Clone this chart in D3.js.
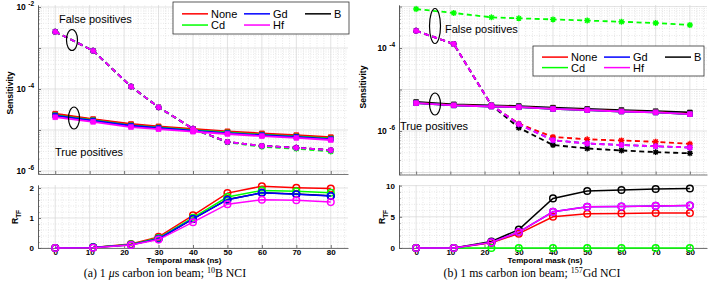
<!DOCTYPE html>
<html>
<head>
<meta charset="utf-8">
<script src="https://cdn.jsdelivr.net/npm/d3@7"></script>
<style>
  body { margin: 0; background: #fff; }
  svg { font-family: "Liberation Sans", Arial, Helvetica, sans-serif; }
</style>
</head>
<body>
<svg id="chart" width="709" height="290"></svg>
<script>
// ---- data ----
const maskNs = [0, 11, 22, 30, 40, 50, 60, 70, 80];
const xTicks = [0, 10, 20, 30, 40, 50, 60, 70, 80];
const seriesNames = ["None", "Cd", "Gd", "Hf", "B"];
const seriesColors = ["#ff0000", "#00ff00", "#0000ff", "#ff00ff", "#000000"];
const drawOrder = ["B", "None", "Cd", "Gd", "Hf"];

// (a) 1 us beam, 10B NCI
const falsePosA = {
    None: [2.5e-3, 8.6e-4, 1.15e-4, 3.6e-5, 1.07e-5, 5.1e-6, 4.1e-6, 3.7e-6, 3.2e-6],
    Cd:   [2.5e-3, 8.6e-4, 1.15e-4, 3.6e-5, 1.06e-5, 5.0e-6, 3.9e-6, 3.5e-6, 3.0e-6],
    Gd:   [2.5e-3, 8.6e-4, 1.15e-4, 3.6e-5, 1.07e-5, 5.1e-6, 4.1e-6, 3.7e-6, 3.2e-6],
    Hf:   [2.5e-3, 8.6e-4, 1.15e-4, 3.6e-5, 1.07e-5, 5.1e-6, 4.1e-6, 3.7e-6, 3.2e-6],
    B:    [2.5e-3, 8.6e-4, 1.15e-4, 3.6e-5, 1.07e-5, 5.1e-6, 4.1e-6, 3.7e-6, 3.2e-6]
};
const truePosA = {
    None: [2.5e-5, 1.85e-5, 1.4e-5, 1.23e-5, 1.06e-5, 9.3e-6, 8.3e-6, 7.5e-6, 6.7e-6],
    Cd:   [2.3e-5, 1.74e-5, 1.3e-5, 1.15e-5, 9.9e-6, 8.7e-6, 7.7e-6, 7.0e-6, 6.2e-6],
    Gd:   [2.25e-5, 1.7e-5, 1.27e-5, 1.12e-5, 9.6e-6, 8.4e-6, 7.5e-6, 6.8e-6, 6.0e-6],
    Hf:   [2.05e-5, 1.58e-5, 1.18e-5, 1.05e-5, 9.1e-6, 8.0e-6, 7.1e-6, 6.4e-6, 5.7e-6],
    B:    [2.4e-5, 1.78e-5, 1.35e-5, 1.18e-5, 1.02e-5, 8.9e-6, 7.9e-6, 7.2e-6, 6.4e-6]
};
const ratioA = {
    None: [0, 0.02, 0.13, 0.37, 1.09, 1.83, 2.06, 2.01, 1.98],
    Cd:   [0, 0.02, 0.12, 0.33, 1.01, 1.70, 1.92, 1.89, 1.84],
    Gd:   [0, 0.02, 0.11, 0.31, 0.97, 1.61, 1.84, 1.79, 1.73],
    Hf:   [0, 0.01, 0.10, 0.28, 0.86, 1.46, 1.61, 1.59, 1.53],
    B:    [0, 0.02, 0.11, 0.31, 0.97, 1.62, 1.84, 1.80, 1.74]
};

// (b) 1 ms beam, 157Gd NCI
const falsePosB = {
    None: [2.6e-4, 1.25e-4, 4.2e-6, 1.5e-6, 7.2e-7, 6.3e-7, 5.9e-7, 5.5e-7, 4.9e-7],
    Cd:   [8.7e-4, 7.0e-4, 5.5e-4, 5.2e-4, 4.9e-4, 4.6e-4, 4.3e-4, 4.0e-4, 3.6e-4],
    Gd:   [2.6e-4, 1.25e-4, 4.2e-6, 1.45e-6, 6.0e-7, 5.0e-7, 4.6e-7, 4.3e-7, 4.0e-7],
    Hf:   [2.6e-4, 1.25e-4, 4.2e-6, 1.45e-6, 6.0e-7, 5.0e-7, 4.6e-7, 4.3e-7, 4.0e-7],
    B:    [2.6e-4, 1.25e-4, 4.2e-6, 1.2e-6, 4.6e-7, 3.8e-7, 3.4e-7, 3.1e-7, 2.9e-7]
};
const truePosB = {
    None: [4.75e-6, 4.2e-6, 3.95e-6, 3.8e-6, 3.45e-6, 3.25e-6, 3.0e-6, 2.85e-6, 2.6e-6],
    Cd:   [4.7e-6, 4.15e-6, 3.9e-6, 3.75e-6, 3.4e-6, 3.2e-6, 2.95e-6, 2.8e-6, 2.55e-6],
    Gd:   [4.7e-6, 4.15e-6, 3.9e-6, 3.75e-6, 3.4e-6, 3.2e-6, 2.95e-6, 2.8e-6, 2.55e-6],
    Hf:   [4.7e-6, 4.15e-6, 3.9e-6, 3.75e-6, 3.4e-6, 3.2e-6, 2.95e-6, 2.8e-6, 2.55e-6],
    B:    [5.0e-6, 4.4e-6, 4.15e-6, 4.0e-6, 3.65e-6, 3.4e-6, 3.2e-6, 3.0e-6, 2.8e-6]
};
const ratioB = {
    None: [0, 0, 0.85, 2.3, 5.0, 5.5, 5.55, 5.6, 5.6],
    Cd:   [0, 0, 0, 0, 0, 0, 0, 0, 0],
    Gd:   [0, 0, 0.9, 2.55, 5.8, 6.6, 6.65, 6.75, 6.8],
    Hf:   [0, 0, 0.9, 2.55, 5.8, 6.6, 6.65, 6.75, 6.8],
    B:    [0, 0, 1.05, 2.95, 7.95, 9.15, 9.3, 9.45, 9.55]
};

const svg = d3.select("#chart");
const colorOf = d3.scaleOrdinal().domain(seriesNames).range(seriesColors);

const panels = [
    {
        left: 38, right: 348,
        topDomain: [8.45e-7, 1.12e-2], topRange: [174, 5], topLabels: [-2, -4, -6],
        botDomain: [0, 2.1], botTicks: [0, 1, 2], botMinor: 0.2,
        fp: falsePosA, tp: truePosA, ratio: ratioA,
        xlabelX: 184, ylabelX: 10, ylabelY: 93, rlabelX: 18,
        legend: {x: 173, y: 2, w: 176, h: 32},
        fpNote: {tx: 59, ty: 23, ex: 72, ey: 40, ry: 10.5},
        tpNote: {tx: 55, ty: 156, ex: 74, ey: 118, ry: 11},
        caption: {x: 165, parts: ["(a)  1 ", "\u03bc", "s carbon ion beam; ", "10", "B NCI"]}
    },
    {
        left: 399, right: 707,
        topDomain: [8.95e-8, 1.09e-3], topRange: [174.5, 5], topLabels: [-4, -6],
        botDomain: [0, 10.1], botTicks: [0, 5, 10], botMinor: 1,
        fp: falsePosB, tp: truePosB, ratio: ratioB,
        xlabelX: 545, ylabelX: 363, ylabelY: 87, rlabelX: 385,
        legend: {x: 533, y: 46, w: 171, h: 30},
        fpNote: {tx: 445, ty: 33, ex: 435, ey: 26, ry: 17.5},
        tpNote: {tx: 400, ty: 130, ex: 435, ey: 104, ry: 11},
        caption: {x: 532, parts: ["(b)  1 ms carbon ion beam; ", "", "", "157", "Gd NCI"]}
    }
];

const gridColor = "#d6d6d6";
const axisColor = "#555";
const legendCols = [9, 71, 132];

panels.forEach(p => drawPanel(p));

function drawPanel(p) {
    let g = svg.append("g");

    let x = d3.scaleLinear().domain([-5, 85]).range([p.left, p.right]);
    let yTop = d3.scaleLog().domain(p.topDomain).range(p.topRange);
    let yBot = d3.scaleLinear().domain(p.botDomain).range([248, 185]);

    let xMinor = d3.range(-4, 85, 2).filter(v => v % 10 !== 0);

    // log-axis tick values
    let lo = Math.ceil(Math.log10(p.topDomain[0]) - 1e-9), hi = Math.floor(Math.log10(p.topDomain[1]));
    let decades = d3.range(lo, hi + 1).map(e => Math.pow(10, e));
    let logMinor = [];
    d3.range(lo - 1, hi + 1).forEach(e => {
        for (let k = 2; k <= 9; k++) {
            let v = k * Math.pow(10, e);
            if (v >= p.topDomain[0] && v <= p.topDomain[1]) logMinor.push(v);
        }
    });
    let botMinor = d3.range(0, p.botDomain[1] + 1e-9, p.botMinor)
        .filter(v => Math.abs(v / (p.botTicks[1]) - Math.round(v / p.botTicks[1])) > 1e-6);

    // ---- grids ----
    function grid(yScale, yTicks, yMinorTicks) {
        let [y0, y1] = yScale.range();
        let gg = g.append("g").attr("class", "grid");
        gg.selectAll(".vmin").data(xMinor).join("line")
            .attr("x1", d => x(d)).attr("x2", d => x(d)).attr("y1", y0).attr("y2", y1)
            .attr("stroke", gridColor).attr("stroke-width", 0.6).attr("stroke-dasharray", "1,1.5");
        gg.selectAll(".hmin").data(yMinorTicks).join("line")
            .attr("x1", p.left).attr("x2", p.right).attr("y1", d => yScale(d)).attr("y2", d => yScale(d))
            .attr("stroke", gridColor).attr("stroke-width", 0.6).attr("stroke-dasharray", "1,1.5");
        gg.selectAll(".vmaj").data(xTicks).join("line")
            .attr("x1", d => x(d)).attr("x2", d => x(d)).attr("y1", y0).attr("y2", y1)
            .attr("stroke", gridColor).attr("stroke-width", 0.7);
        gg.selectAll(".hmaj").data(yTicks).join("line")
            .attr("x1", p.left).attr("x2", p.right).attr("y1", d => yScale(d)).attr("y2", d => yScale(d))
            .attr("stroke", gridColor).attr("stroke-width", 0.7);
    }
    grid(yTop, decades, logMinor);
    grid(yBot, p.botTicks, botMinor);

    // ---- axes ----
    function styleAxis(sel) {
        sel.selectAll("path, line").attr("stroke", axisColor).attr("stroke-width", 0.8);
        sel.selectAll("text").attr("fill", "#000").attr("font-weight", "bold").attr("font-size", 8)
            .attr("font-family", "'Liberation Sans', Arial, sans-serif");
    }

    g.append("g").attr("transform", `translate(0,${p.topRange[0]})`)
        .call(d3.axisBottom(x).tickValues(xTicks).tickSizeInner(-3).tickSizeOuter(0).tickFormat(""))
        .call(styleAxis);
    g.append("g").attr("transform", `translate(${p.left},0)`)
        .call(d3.axisLeft(yTop).tickValues(logMinor).tickSizeInner(-1.5).tickSizeOuter(0).tickFormat(""))
        .call(styleAxis);
    g.append("g").attr("transform", `translate(${p.left},0)`)
        .call(d3.axisLeft(yTop).tickValues(decades).tickSizeInner(-3).tickSizeOuter(0).tickFormat(""))
        .call(styleAxis);

    // log labels 10^k
    p.topLabels.forEach(e => {
        let t = g.append("text")
            .attr("x", p.left - 4).attr("y", yTop(Math.pow(10, e)) + 3)
            .attr("text-anchor", "end").attr("font-weight", "bold").attr("font-size", 8.5);
        t.append("tspan").text("10 ");
        t.append("tspan").attr("dy", -4).attr("font-size", 6.5).text(String(e));
    });

    g.append("g").attr("transform", `translate(0,248)`)
        .call(d3.axisBottom(x).tickValues(xTicks).tickSizeInner(-3).tickSizeOuter(0).tickPadding(1.5))
        .call(styleAxis);
    g.append("g").attr("transform", `translate(${p.left},0)`)
        .call(d3.axisLeft(yBot).tickValues(botMinor).tickSizeInner(-1.5).tickSizeOuter(0).tickFormat(""))
        .call(styleAxis);
    g.append("g").attr("transform", `translate(${p.left},0)`)
        .call(d3.axisLeft(yBot).tickValues(p.botTicks).tickSizeInner(-3).tickSizeOuter(0)
            .tickPadding(4).tickFormat(d3.format("d")))
        .call(styleAxis);

    // ---- series ----
    let lineTop = d3.line().x((d, i) => x(maskNs[i])).y(d => yTop(d));
    let lineBot = d3.line().x((d, i) => x(maskNs[i])).y(d => yBot(d));
    let asterisk = "M-3,0H3M0,-3V3M-2.2,-2.2L2.2,2.2M-2.2,2.2L2.2,-2.2";

    drawOrder.forEach(name => {
        let c = colorOf(name);

        // false positives: dashed with asterisks
        g.append("path").datum(p.fp[name]).attr("d", lineTop)
            .attr("fill", "none").attr("stroke", c).attr("stroke-width", 1.8)
            .attr("stroke-dasharray", "5,3.5");
        g.selectAll(null).data(p.fp[name]).join("path")
            .attr("transform", (d, i) => `translate(${x(maskNs[i])},${yTop(d)})`)
            .attr("d", asterisk).attr("stroke", c).attr("stroke-width", 1.4).attr("fill", "none");

        // true positives: solid with squares
        g.append("path").datum(p.tp[name]).attr("d", lineTop)
            .attr("fill", "none").attr("stroke", c).attr("stroke-width", 1.8);
        g.selectAll(null).data(p.tp[name]).join("path")
            .attr("transform", (d, i) => `translate(${x(maskNs[i])},${yTop(d)})`)
            .attr("d", d3.symbol(d3.symbolSquare, 22)).attr("fill", c).attr("stroke", c).attr("stroke-width", 0.8);

        // ratio
        g.append("path").datum(p.ratio[name]).attr("d", lineBot)
            .attr("fill", "none").attr("stroke", c).attr("stroke-width", 1.5);
        g.selectAll(null).data(p.ratio[name]).join("circle")
            .attr("cx", (d, i) => x(maskNs[i])).attr("cy", d => yBot(d)).attr("r", 3.3)
            .attr("fill", "none").attr("stroke", c).attr("stroke-width", 1.5);
    });

    // ---- annotations ----
    [p.fpNote, p.tpNote].forEach((n, k) => {
        g.append("ellipse").attr("cx", n.ex).attr("cy", n.ey).attr("rx", 5.5).attr("ry", n.ry)
            .attr("fill", "none").attr("stroke", "#000").attr("stroke-width", 1.2);
        g.append("text").attr("x", n.tx).attr("y", n.ty).attr("font-size", 11)
            .text(k === 0 ? "False positives" : "True positives");
    });

    // ---- legend ----
    let L = p.legend;
    let lg = g.append("g").attr("transform", `translate(${L.x},${L.y})`);
    lg.append("rect").attr("width", L.w).attr("height", L.h)
        .attr("fill", "#fff").attr("stroke", "#333").attr("stroke-width", 0.8);
    seriesNames.forEach((name, i) => {
        let col = Math.floor(i / 2), row = i % 2;
        let ex = legendCols[col], ey = L.h * (row === 0 ? 0.37 : 0.72);
        lg.append("line").attr("x1", ex).attr("x2", ex + 26).attr("y1", ey).attr("y2", ey)
            .attr("stroke", colorOf(name)).attr("stroke-width", 1.5);
        lg.append("text").attr("x", ex + 29).attr("y", ey + 4).attr("font-size", 11).text(name);
    });

    // ---- axis labels ----
    g.append("text").attr("transform", `translate(${p.ylabelX},${p.ylabelY}) rotate(-90)`)
        .attr("text-anchor", "middle").attr("dy", "0.35em")
        .attr("font-weight", "bold").attr("font-size", 8.6).text("Sensitivity");
    let r = g.append("text").attr("transform", `translate(${p.rlabelX},217) rotate(-90)`)
        .attr("text-anchor", "middle").attr("font-weight", "bold").attr("font-size", 8.6);
    r.append("tspan").text("R");
    r.append("tspan").attr("dy", 2.5).attr("font-size", 6.5).text("TF");

    g.append("text").attr("x", p.xlabelX).attr("y", 263).attr("text-anchor", "middle")
        .attr("font-weight", "bold").attr("font-size", 8).text("Temporal mask (ns)");

    // ---- caption ----
    let cp = p.caption.parts;
    let ct = g.append("text").attr("x", p.caption.x).attr("y", 276.5).attr("text-anchor", "middle")
        .attr("font-family", "'Liberation Serif', 'Times New Roman', serif").attr("font-size", 11.8);
    ct.append("tspan").text(cp[0]);
    if (cp[1]) ct.append("tspan").attr("font-style", "italic").text(cp[1]);
    if (cp[2]) ct.append("tspan").text(cp[2]);
    ct.append("tspan").attr("dy", -3.8).attr("font-size", 8).text(cp[3]);
    ct.append("tspan").attr("dy", 3.8).text(cp[4]);
}
</script>
</body>
</html>
